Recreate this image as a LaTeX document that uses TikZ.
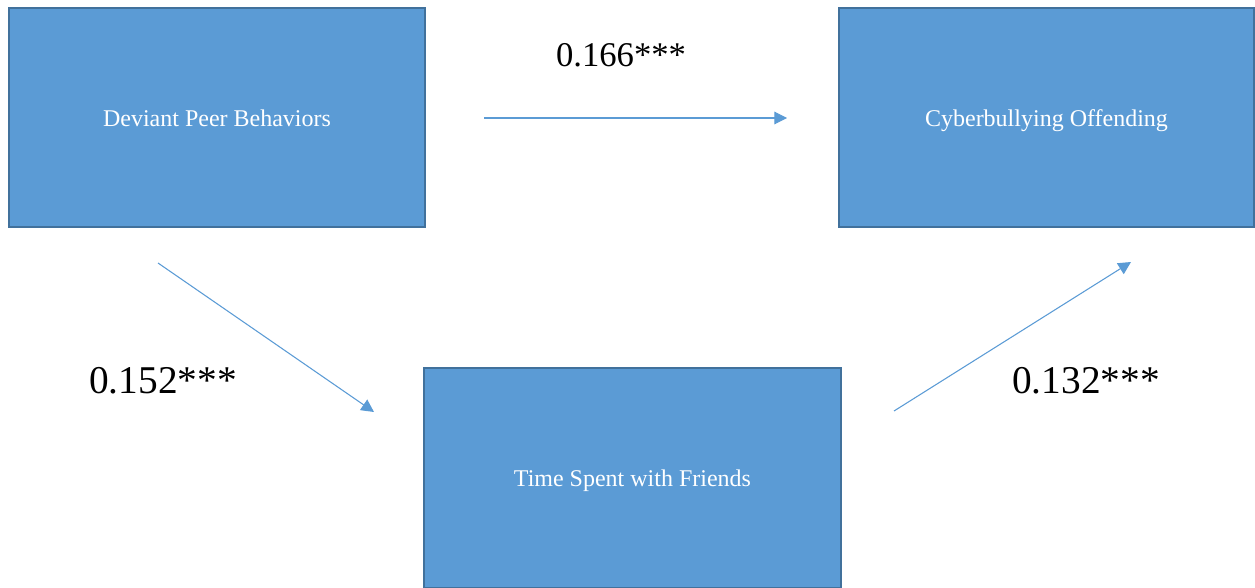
\documentclass[tikz,border=0pt]{standalone}
\usepackage{fontspec}
\setmainfont{Liberation Serif}
\usetikzlibrary{arrows.meta}
\definecolor{boxfill}{HTML}{5B9BD5}
\definecolor{boxline}{HTML}{41719C}
\definecolor{arrowc}{HTML}{5B9BD5}
\tikzset{
  varbox/.style={draw=boxline, fill=boxfill, line width=1.1pt, text=white,
    font=\fontsize{18}{21}\selectfont, inner sep=0pt,
    text height=14pt, text depth=0pt},
  pathlbl/.style={anchor=base, text=black, inner sep=0pt},
  effect/.style={draw=arrowc, line width=0.8pt,
    -{Triangle[length=9.5pt, width=9.5pt]}}
}
\begin{document}
\begin{tikzpicture}[x=0.75pt, y=-0.75pt]
\useasboundingbox (0,0) rectangle (1255,588);
\node[varbox, minimum width=416*0.75pt, minimum height=219*0.75pt] (dev) at (217,117.5) {Deviant Peer Behaviors};
\node[varbox, minimum width=415*0.75pt, minimum height=219*0.75pt] (cyb) at (1046.5,117.5) {Cyberbullying Offending};
\node[varbox, text height=12pt, minimum width=417*0.75pt, minimum height=220*0.75pt] (time) at (632.5,478) {Time Spent with Friends};
\coordinate (a1s) at (484,118);
\coordinate (a1e) at (787,118);
\coordinate (a2s) at (158,263);
\coordinate (a2e) at (374,412);
\coordinate (a3s) at (894,411);
\coordinate (a3e) at (1131,262);
\draw[effect] (a1s) -- (a1e);
\draw[effect] (a2s) -- (a2e);
\draw[effect] (a3s) -- (a3e);
\node[pathlbl, font=\fontsize{26}{30}\selectfont] (l1) at (621,67) {0.166***};
\node[pathlbl, font=\fontsize{29.5}{34}\selectfont] (l2) at (163,393) {0.152***};
\node[pathlbl, font=\fontsize{29.5}{34}\selectfont] (l3) at (1086,393) {0.132***};
\end{tikzpicture}
\end{document}
